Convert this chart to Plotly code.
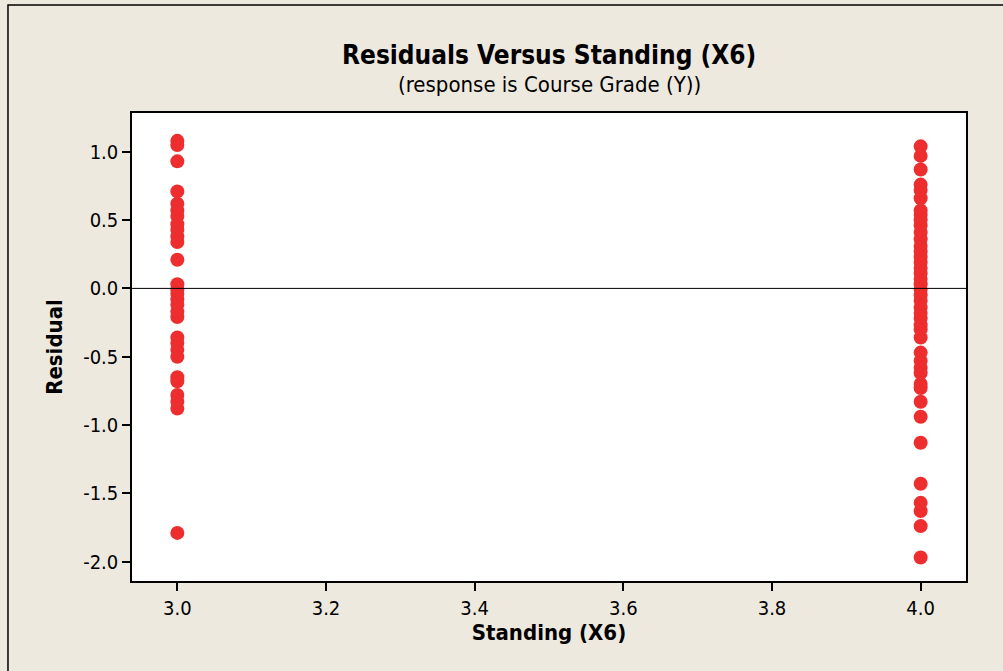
import plotly.graph_objects as go

standing_3 = [1.08, 1.05, 0.93, 0.71, 0.62, 0.57, 0.53, 0.47, 0.43, 0.38, 0.34, 0.21,
              0.03, -0.01, -0.04, -0.08, -0.12, -0.17, -0.21,
              -0.36, -0.40, -0.45, -0.50, -0.65, -0.68, -0.78, -0.83, -0.88, -1.79]
standing_4 = [1.04, 0.97, 0.87, 0.76, 0.72, 0.66, 0.57, 0.54, 0.50, 0.46, 0.41, 0.36,
              0.31, 0.27, 0.23, 0.19, 0.15, 0.11, 0.07, 0.03, -0.01, -0.05, -0.09,
              -0.14, -0.18, -0.22, -0.27, -0.30, -0.36, -0.47, -0.53, -0.58, -0.62,
              -0.70, -0.73, -0.83, -0.94, -1.13, -1.43, -1.57, -1.63, -1.74, -1.97]

x_vals = [3.0] * len(standing_3) + [4.0] * len(standing_4)
y_vals = standing_3 + standing_4

x_ticks = [3.0, 3.2, 3.4, 3.6, 3.8, 4.0]
y_ticks = [1.0, 0.5, 0.0, -0.5, -1.0, -1.5, -2.0]

FONT = "DejaVu Sans Condensed, Liberation Sans, sans-serif"
BG = "#EDE9DF"

fig = go.Figure()
fig.add_trace(go.Scatter(
    x=x_vals, y=y_vals, mode="markers",
    marker=dict(color="#EE2E2E", size=14, line=dict(width=0)),
    showlegend=False, hoverinfo="skip"))

fig.update_layout(
    width=1003, height=671,
    margin=dict(l=132, r=37, t=113, b=90),
    paper_bgcolor=BG, plot_bgcolor="white",
    font=dict(family=FONT, color="black", size=20),
    xaxis=dict(range=[2.939, 4.061], tickvals=x_ticks,
               ticktext=[f"{v:.1f}" for v in x_ticks],
               showgrid=False, zeroline=False, showline=True, linecolor="black",
               linewidth=1.5, mirror=True, ticks="outside", ticklen=8,
               tickwidth=1.5, tickcolor="black",
               title=dict(text="<b>Standing (X6)</b>", font=dict(size=22), standoff=5)),
    yaxis=dict(range=[-2.142, 1.284], tickvals=y_ticks,
               ticktext=[f"{v:.1f}" for v in y_ticks],
               showgrid=False, zeroline=False, showline=True, linecolor="black",
               linewidth=1.5, mirror=True, ticks="outside", ticklen=8,
               tickwidth=1.5, tickcolor="black",
               title=dict(text="<b>Residual</b>", font=dict(size=22), standoff=14)),
)

fig.add_shape(type="line", xref="paper", yref="y", x0=0, x1=1, y0=0, y1=0,
              line=dict(color="black", width=1))
fig.add_shape(type="rect", xref="paper", yref="paper", x0=-0.1487, x1=1.3,
              y0=-0.5, y1=1.2308, line=dict(color="black", width=1.5), layer="below")

fig.add_annotation(text="<b>Residuals Versus Standing (X6)</b>", xref="paper", yref="paper",
                   x=0.5, y=(581 - 55) / 468, xanchor="center", yanchor="middle",
                   showarrow=False, font=dict(size=26, family=FONT))
fig.add_annotation(text="(response is Course Grade (Y))", xref="paper", yref="paper",
                   x=0.5, y=(581 - 84) / 468, xanchor="center", yanchor="middle",
                   showarrow=False, font=dict(size=22, family=FONT))

fig.write_html("out.html", config={"displayModeBar": False},
               post_script="document.body.style.margin='0';")
